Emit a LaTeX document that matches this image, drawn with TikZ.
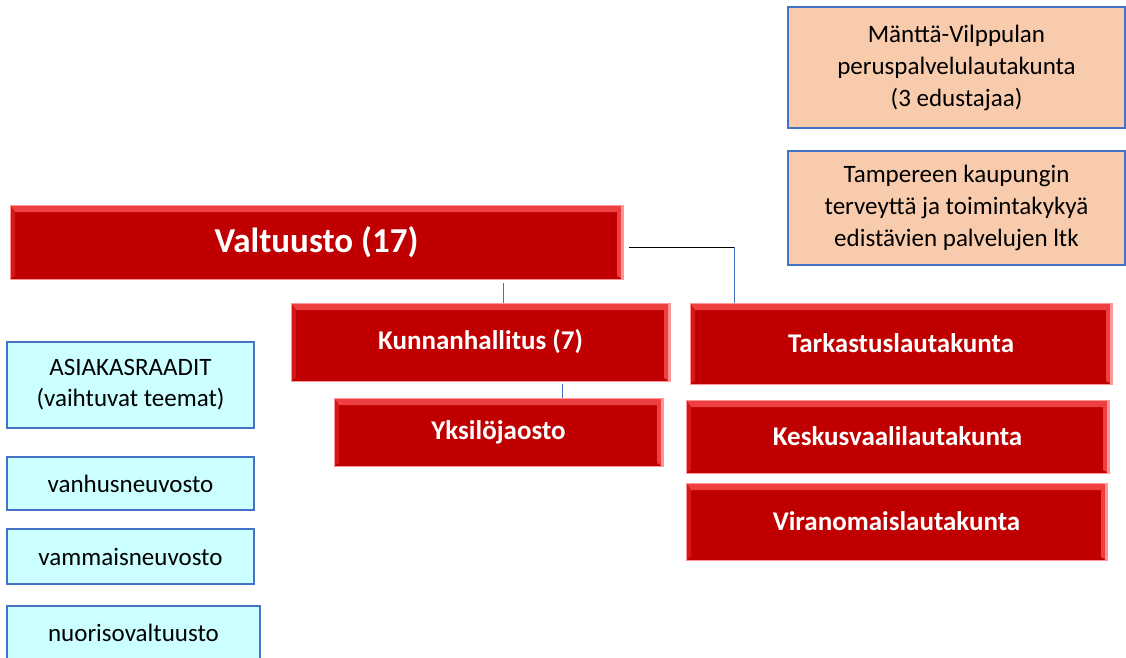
\documentclass[tikz,border=0pt]{standalone}
\usepackage{fontspec}
\setmainfont{Carlito}
\usetikzlibrary{positioning}

\definecolor{boxred}{RGB}{192,0,0}
\definecolor{bevelred}{RGB}{238,64,64}
\definecolor{sidered}{RGB}{212,24,24}
\definecolor{edgepink}{RGB}{255,150,150}
\definecolor{raadcyan}{RGB}{204,255,255}
\definecolor{ltkpeach}{RGB}{248,203,173}
\definecolor{edgeblue}{RGB}{68,114,196}

\begin{document}
\begin{tikzpicture}[x=1pt, y=-1pt,
    redbox/.style={rectangle, fill=boxred, draw=edgepink, line width=0.6pt,
      text=white, inner sep=0pt,
      font=\fontsize{27}{32}\selectfont\bfseries,
      path picture={
        % bevel (top, left, right)
        \fill[bevelred] (path picture bounding box.north west) -- (path picture bounding box.north east)
          -- ([xshift=-6pt,yshift=-7pt]path picture bounding box.north east)
          -- ([xshift=5pt,yshift=-7pt]path picture bounding box.north west) -- cycle;
        \fill[sidered] (path picture bounding box.north west) -- ([xshift=5pt,yshift=-7pt]path picture bounding box.north west)
          -- ([xshift=5pt,yshift=3pt]path picture bounding box.south west) -- (path picture bounding box.south west) -- cycle;
        \fill[bevelred] (path picture bounding box.north east) -- ([xshift=-6pt,yshift=-7pt]path picture bounding box.north east)
          -- ([xshift=-6pt,yshift=3pt]path picture bounding box.south east) -- (path picture bounding box.south east) -- cycle;
        \fill[edgepink] ([xshift=-2.5pt]path picture bounding box.north east) rectangle (path picture bounding box.south east);
      }},
    raadbox/.style={rectangle, fill=raadcyan, draw=edgeblue, line width=1.2pt,
      inner sep=0pt, align=center, font=\fontsize{25}{31}\selectfont},
    ltkbox/.style={rectangle, fill=ltkpeach, draw=edgeblue, line width=1.2pt,
      inner sep=0pt, align=center, font=\fontsize{25}{32}\selectfont},
    link/.style={draw=edgeblue, line width=1pt}]

    \clip (0,0) rectangle (1126,657);
    \fill[white] (0,0) rectangle (1126,657);

    % Valtuusto
    \node[redbox, minimum width=613, minimum height=74, font=\fontsize{35}{40}\selectfont\bfseries]
        (valt) at (316.5,242) {Valtuusto (17)};

    % Kunnanhallitus ja jaosto
    \node[redbox, minimum width=379, minimum height=78] (khall) at (480.5,342) {Kunnanhallitus (7)};
    \node[redbox, minimum width=329, minimum height=68] (yksi) at (498.5,432) {Yksilöjaosto};

    % Lautakunnat
    \node[redbox, minimum width=422, minimum height=81] (tark) at (901,343.5) {Tarkastuslautakunta};
    \node[redbox, minimum width=423, minimum height=73] (kvaali) at (897.5,436.5) {Keskusvaalilautakunta};
    \node[redbox, minimum width=421, minimum height=77] (viran) at (896.5,521.5) {Viranomaislautakunta};

    % Yhteiset lautakunnat
    \node[ltkbox, minimum width=337, minimum height=121] (mantta) at (956.5,67.5)
        {Mänttä-Vilppulan\\peruspalvelulautakunta\\(3 edustajaa)};
    \node[ltkbox, minimum width=337, minimum height=114] (tampere) at (956.5,208)
        {Tampereen kaupungin\\terveyttä ja toimintakykyä\\edistävien palvelujen ltk};

    % Raadit ja neuvostot
    \node[raadbox, minimum width=247, minimum height=86] (raadit) at (130.5,385)
        {ASIAKASRAADIT\\(vaihtuvat teemat)};
    \node[raadbox, minimum width=247, minimum height=53] (vanhus) at (130.5,483.5) {vanhusneuvosto};
    \node[raadbox, minimum width=247, minimum height=55] (vammais) at (130.5,556.5) {vammaisneuvosto};
    \node[raadbox, minimum width=253, minimum height=54] (nuoriso) at (133.5,633) {nuorisovaltuusto};

    % Yhteydet
    \coordinate (kulma) at (tark.north -| 734,0);
    \draw[link] ([yshift=-4pt]valt.south -| khall.north) ++(22.5,0) -- ([xshift=22.5pt]khall.north);
    \draw[black, line width=1pt] ([xshift=6pt,yshift=-5pt]valt.east) -- ([yshift=-5pt]valt.east -| kulma);
    \draw[link] ([yshift=-5pt]valt.east -| kulma) -- (kulma);
    \draw[link] ([xshift=81.5pt,yshift=-3pt]khall.south) -- ([xshift=63.5pt]yksi.north);
\end{tikzpicture}
\end{document}
